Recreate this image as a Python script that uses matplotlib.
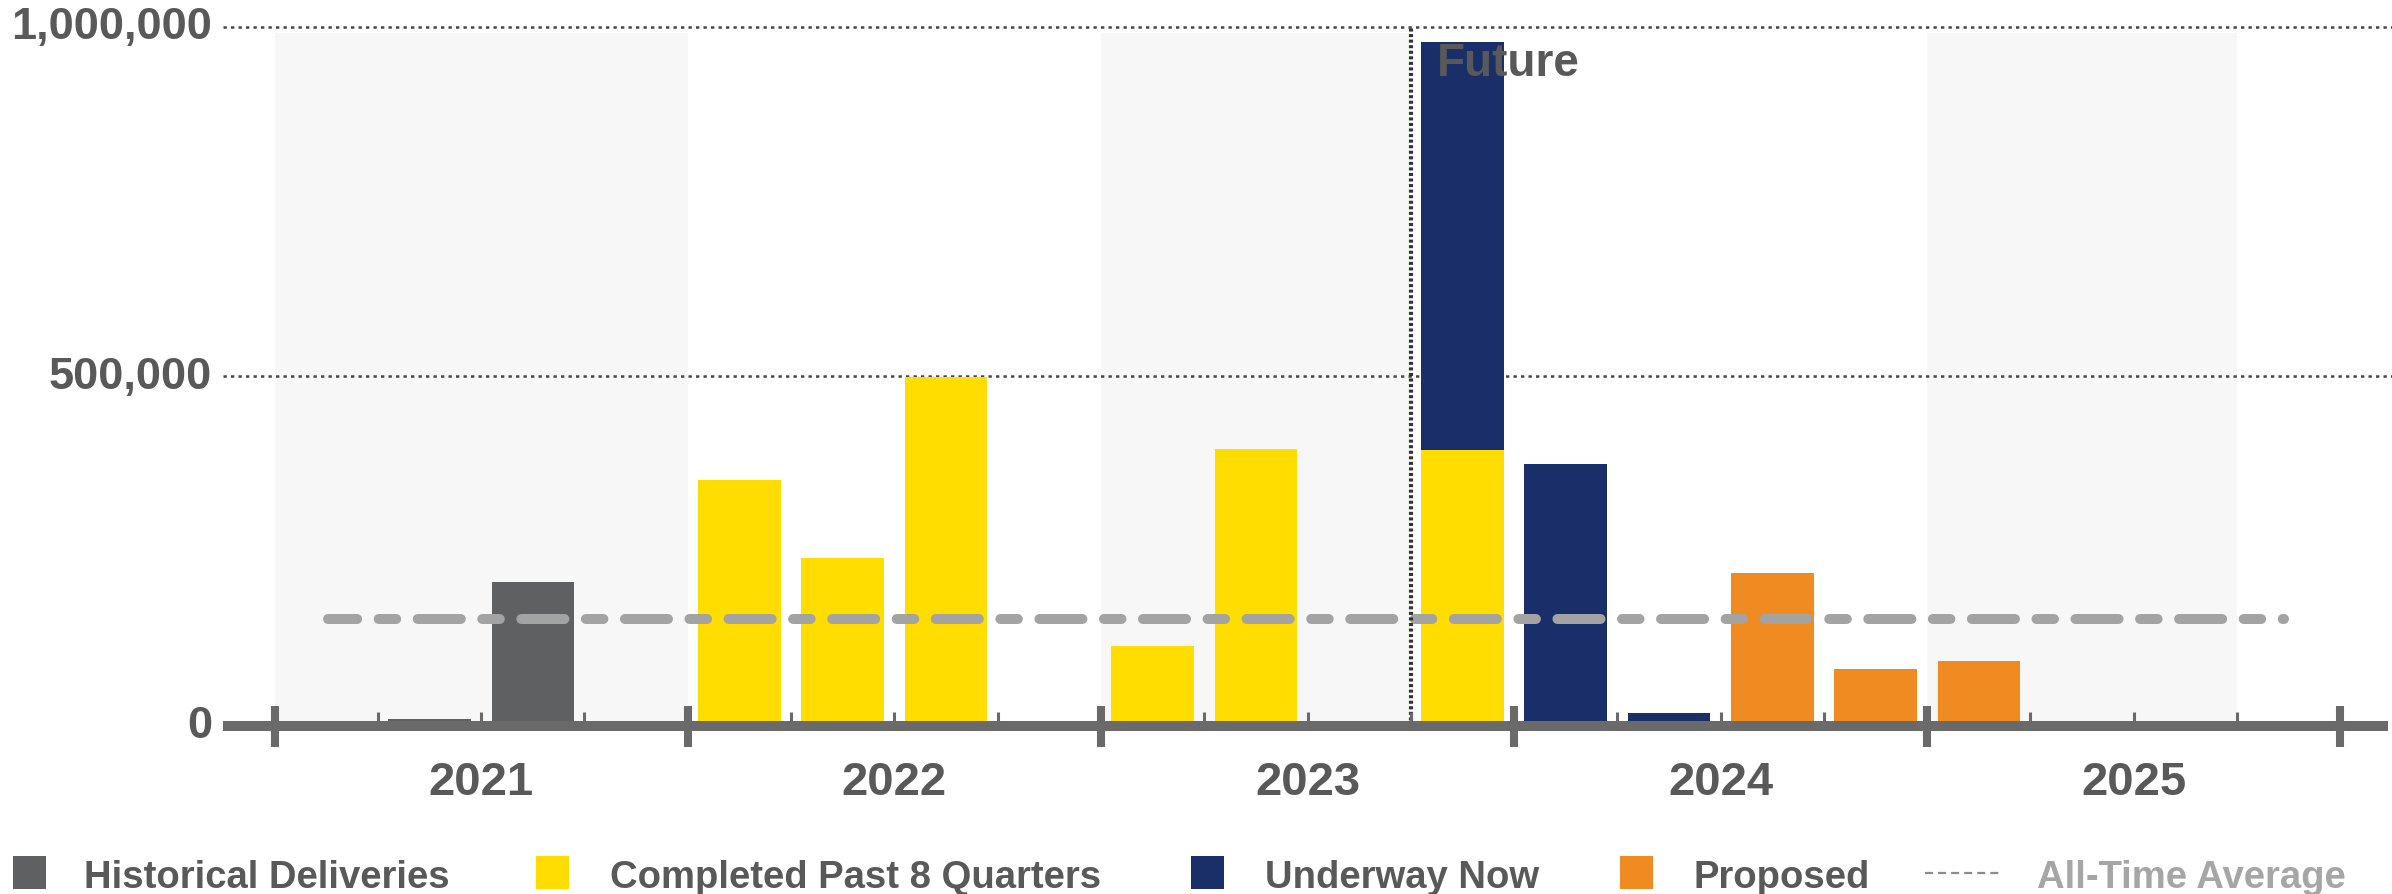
import matplotlib.pyplot as plt
from matplotlib.patches import Rectangle
from matplotlib.lines import Line2D

plt.rcParams['font.family'] = ['Liberation Sans', 'DejaVu Sans']
plt.rcParams['font.weight'] = 'bold'
plt.rcParams['lines.scale_dashes'] = False

# quarterly deliveries, 2021 Q1 .. 2025 Q4
years = [2021, 2022, 2023, 2024, 2025]
historical = [0, 10000, 206000, 0,
              0, 0, 0, 0,
              0, 0, 0, 0,
              0, 0, 0, 0,
              0, 0, 0, 0]
completed = [0, 0, 0, 0,
             352000, 240000, 499000, 0,
             114000, 396000, 0, 394000,
             0, 0, 0, 0,
             0, 0, 0, 0]
underway = [0, 0, 0, 0,
            0, 0, 0, 0,
            0, 0, 0, 584000,
            374000, 18600, 0, 0,
            0, 0, 0, 0]
proposed = [0, 0, 0, 0,
            0, 0, 0, 0,
            0, 0, 0, 0,
            0, 0, 218000, 81000,
            92000, 0, 0, 0]
all_time_avg = 153000
yticks = [0, 500000, 1000000]
legend_labels = ['Historical Deliveries', 'Completed Past 8 Quarters',
                 'Underway Now', 'Proposed', 'All-Time Average']

c_hist = '#5f6062'
c_comp = '#ffdd00'
c_under = '#1a2f6a'
c_prop = '#f08b21'
c_avg = '#a3a3a3'
c_axis = '#6a6a6a'
c_text = '#595959'
c_band = '#f7f7f7'

W, H = 2392, 895
fig = plt.figure(figsize=(W / 100, H / 100), dpi=100)
ax = fig.add_axes([223 / W, (H - 796.6) / H, (W - 223) / W, (796.6 - 14) / H])
ax.set_xlim(-1, 20)
ax.set_ylim(-100000, 1020000)
ax.axis('off')

x = list(range(len(historical)))

# shaded background bands
for a, b in [(-0.5, 3.5), (7.5, 10.5), (15.5, 18.5)]:
    ax.fill_between([a, b], 0, 992000, color=c_band, lw=0, zorder=0)

# dotted gridlines
for v in yticks[1:]:
    ax.plot([-1, 20], [v, v], color='#454545', lw=1.8, ls=(0, (2.4, 3.0)),
            zorder=1, clip_on=False)

# tick labels on y
for v in yticks:
    ax.text(-1.106, v, f'{v:,}', ha='right', va='center', fontsize=32.5,
            color=c_text)

# stacked bars
bottom = [0] * len(x)
for vals, col in [(historical, c_hist), (completed, c_comp),
                  (underway, c_under), (proposed, c_prop)]:
    ax.bar(x, vals, width=0.8, bottom=bottom, color=col, lw=0, zorder=3)
    bottom = [b + v for b, v in zip(bottom, vals)]

# all-time average, long/short dashes with round ends
ax.plot([0.02, 18.95], [all_time_avg, all_time_avg], color=c_avg, lw=7.2,
        ls=(10, (31.0, 15.5, 12.6, 15.5)), dash_capstyle='round',
        solid_capstyle='round', zorder=4)

# future divider
ax.plot([10.5, 10.5], [0, 1000000], color='#333333', lw=3.0,
        ls=(0, (2.2, 1.8)), zorder=4)
ax.text(10.75, 980000, 'Future', fontsize=33, color=c_text, ha='left',
        va='top', zorder=6)

# x axis line and ticks
ax.plot([-1, 19.96], [0, 0], color=c_axis, lw=7.2, solid_capstyle='butt',
        zorder=5, clip_on=False)
edges = [-0.5 + 4 * i for i in range(len(years) + 1)]
ax.vlines(edges, -30500, 28200, color=c_axis, lw=5.8, zorder=5)
minor = [q + 0.5 for q in range(19) if (q + 0.5) not in edges]
ax.vlines(minor, 0, 19600, color=c_axis, lw=2.2, zorder=5)

for i, yr in enumerate(years):
    ax.text(1.5 + 4 * i, -97750, str(yr), ha='center', va='baseline',
            fontsize=34, color=c_text)


# legend along the bottom, placed in pixels
def fx(px):
    return px / W


def fy(py):
    return 1 - py / H


swatches = [(13, c_hist), (536, c_comp), (1191, c_under), (1620, c_prop)]
text_x = [84, 610, 1265, 1693]
for (sx, col), tx, lab in zip(swatches, text_x, legend_labels[:4]):
    fig.add_artist(Rectangle((fx(sx), fy(890)), 33 / W, 33 / H, color=col,
                             lw=0, transform=fig.transFigure))
    fig.text(fx(tx), fy(888), lab, fontsize=27.5, color=c_text,
             va='baseline', ha='left')

fig.add_artist(Line2D([fx(1925), fx(2001)], [fy(874), fy(874)],
                      transform=fig.transFigure, color='#8c8c8c', lw=1.6,
                      ls=(0, (5.8, 3.6))))
fig.text(fx(2037), fy(888), legend_labels[4], fontsize=27.5, color='#a6a6a6',
         va='baseline', ha='left')

fig.savefig('out.png', dpi=100)
